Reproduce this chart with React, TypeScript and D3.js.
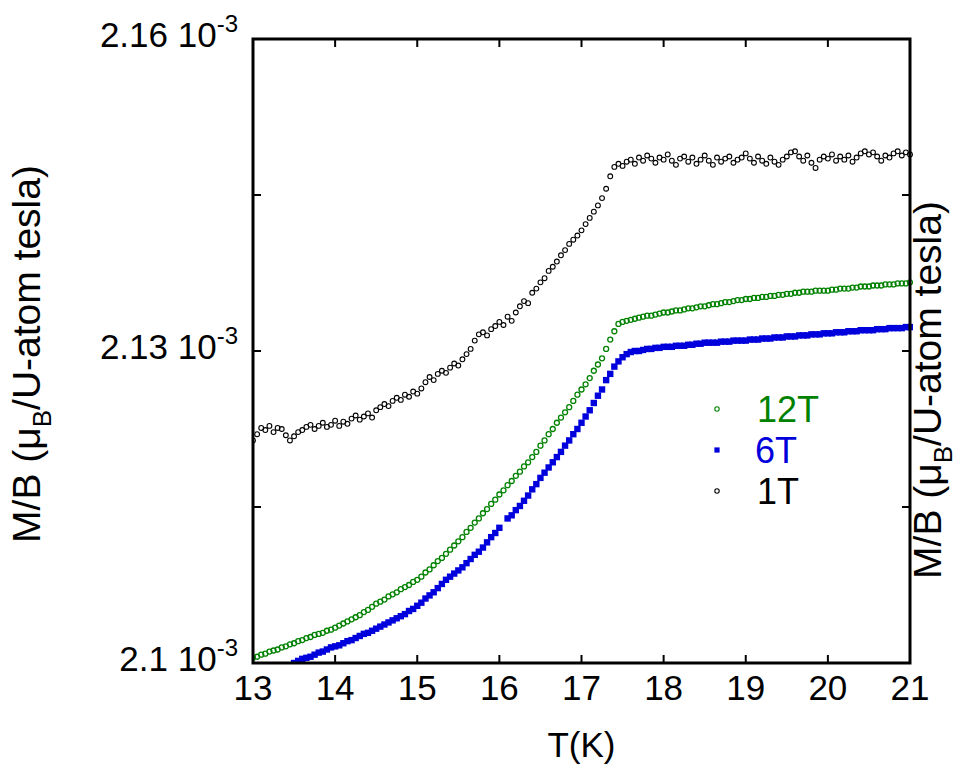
import React from "react";
import * as d3 from "d3";

// Temperatures (K) of the sampled points
const temps: number[] = [
  13.0, 13.05, 13.1, 13.15, 13.2, 13.25, 13.3, 13.35, 13.4, 13.45,
  13.5, 13.55, 13.6, 13.65, 13.7, 13.75, 13.8, 13.85, 13.9, 13.95,
  14.0, 14.05, 14.1, 14.15, 14.2, 14.25, 14.3, 14.35, 14.4, 14.45,
  14.5, 14.55, 14.6, 14.65, 14.7, 14.75, 14.8, 14.85, 14.9, 14.95,
  15.0, 15.05, 15.1, 15.15, 15.2, 15.25, 15.3, 15.35, 15.4, 15.45,
  15.5, 15.55, 15.6, 15.65, 15.7, 15.75, 15.8, 15.85, 15.9, 15.95,
  16.0, 16.05, 16.1, 16.15, 16.2, 16.25, 16.3, 16.35, 16.4, 16.45,
  16.5, 16.55, 16.6, 16.65, 16.7, 16.75, 16.8, 16.85, 16.9, 16.95,
  17.0, 17.05, 17.1, 17.15, 17.2, 17.25, 17.3, 17.35, 17.4, 17.45,
  17.5, 17.55, 17.6, 17.65, 17.7, 17.75, 17.8, 17.85, 17.9, 17.95,
  18.0, 18.05, 18.1, 18.15, 18.2, 18.25, 18.3, 18.35, 18.4, 18.45,
  18.5, 18.55, 18.6, 18.65, 18.7, 18.75, 18.8, 18.85, 18.9, 18.95,
  19.0, 19.05, 19.1, 19.15, 19.2, 19.25, 19.3, 19.35, 19.4, 19.45,
  19.5, 19.55, 19.6, 19.65, 19.7, 19.75, 19.8, 19.85, 19.9, 19.95,
  20.0, 20.05, 20.1, 20.15, 20.2, 20.25, 20.3, 20.35, 20.4, 20.45,
  20.5, 20.55, 20.6, 20.65, 20.7, 20.75, 20.8, 20.85, 20.9, 20.95,
  21.0,
];

// M/B in units of 1e-3 muB/(U-atom tesla)
const series12T: (number | null)[] = [
  2.1005, 2.1006, 2.1008, 2.1009, 2.1011, 2.1012, 2.1013, 2.1015, 2.1016, 2.1018,
  2.1019, 2.1021, 2.1022, 2.1024, 2.1025, 2.1027, 2.1028, 2.1029, 2.1031, 2.1032,
  2.1034, 2.1036, 2.1038, 2.104, 2.1042, 2.1044, 2.1046, 2.1049, 2.1051, 2.1054,
  2.1057, 2.1059, 2.1061, 2.1064, 2.1066, 2.1068, 2.1071, 2.1073, 2.1075, 2.1078,
  2.108, 2.1083, 2.1087, 2.109, 2.1094, 2.1098, 2.1101, 2.1105, 2.1109, 2.1113,
  2.1117, 2.1121, 2.1126, 2.113, 2.1135, 2.1139, 2.1144, 2.1148, 2.1153, 2.1157,
  2.1162, 2.1166, 2.1171, 2.1175, 2.118, 2.1184, 2.1189, 2.1193, 2.1198, 2.1203,
  2.1209, 2.1214, 2.122, 2.1225, 2.1231, 2.1236, 2.1241, 2.1246, 2.1252, 2.1258,
  2.1263, 2.1268, 2.1274, 2.1281, 2.1287, 2.1293, 2.1302, 2.1311, 2.1319, 2.1326,
  2.1328, 2.1329, 2.133, 2.1331, 2.1332, 2.1333, 2.1334, 2.1334, 2.1335, 2.1336,
  2.1337, 2.1337, 2.1338, 2.1339, 2.1339, 2.134, 2.1341, 2.1341, 2.1342, 2.1343,
  2.1343, 2.1344, 2.1345, 2.1345, 2.1346, 2.1347, 2.1347, 2.1348, 2.1349, 2.1349,
  2.135, 2.135, 2.1351, 2.1351, 2.1352, 2.1352, 2.1353, 2.1353, 2.1354, 2.1354,
  2.1355, 2.1355, 2.1356, 2.1356, 2.1357, 2.1357, 2.1357, 2.1358, 2.1358, 2.1358,
  2.1358, 2.1359, 2.1359, 2.136, 2.136, 2.136, 2.1361, 2.1361, 2.1362, 2.1362,
  2.1362, 2.1363, 2.1363, 2.1363, 2.1364, 2.1364, 2.1364, 2.1365, 2.1365, 2.1365,
  2.1366,
];

const series6T: (number | null)[] = [
  null, null, null, null, null, null, null, null, null, null,
  2.1, 2.1002, 2.1004, 2.1005, 2.1006, 2.1008, 2.101, 2.1011, 2.1013, 2.1015,
  2.1016, 2.1017, 2.1019, 2.1021, 2.1022, 2.1024, 2.1026, 2.1028, 2.1029, 2.1031,
  2.1033, 2.1035, 2.1037, 2.1039, 2.1041, 2.1043, 2.1045, 2.1047, 2.105, 2.1052,
  2.1055, 2.1058, 2.1062, 2.1065, 2.1068, 2.1072, 2.1076, 2.108, 2.1083, 2.1086,
  2.1089, 2.1092, 2.1096, 2.11, 2.1104, 2.1107, 2.1111, 2.1116, 2.1121, 2.1125,
  2.113, null, 2.1139, 2.1142, 2.1147, 2.1151, 2.1156, 2.1161, 2.1167, 2.1172,
  2.1178, 2.1183, 2.1188, 2.1193, 2.1198, 2.1203, 2.1209, 2.1214, 2.122, 2.1225,
  2.1231, 2.1237, 2.1243, 2.125, 2.1257, 2.1263, 2.1272, 2.1278, 2.1285, 2.129,
  2.1294, 2.1297, 2.1299, 2.13, 2.13, 2.1301, 2.1302, 2.1302, 2.1303, 2.1303,
  2.1304, 2.1304, 2.1304, 2.1305, 2.1305, 2.1305, 2.1306, 2.1306, 2.1307, 2.1307,
  2.1308, 2.1308, 2.1308, 2.1308, 2.1309, 2.1309, 2.1309, 2.131, 2.131, 2.131,
  2.131, 2.1311, 2.1311, 2.1311, 2.1312, 2.1312, 2.1312, 2.1313, 2.1313, 2.1313,
  2.1314, 2.1314, 2.1314, 2.1315, 2.1315, 2.1315, 2.1316, 2.1316, 2.1316, 2.1317,
  2.1317, 2.1317, 2.1318, 2.1318, 2.1318, 2.1319, 2.1319, 2.1319, 2.132, 2.132,
  2.132, 2.132, 2.1321, 2.1321, 2.1321, 2.1322, 2.1322, 2.1322, 2.1322, 2.1323,
  2.1323,
];

const series1T: (number | null)[] = [
  2.1214, 2.122, 2.1226, 2.1224, 2.1228, 2.1222, 2.1226, 2.1225, 2.1219, 2.1214,
  2.1218, 2.1222, 2.1224, 2.1227, 2.1229, 2.1225, 2.1228, 2.1231, 2.1227, 2.1229,
  2.1233, 2.1228, 2.1232, 2.123, 2.1235, 2.1238, 2.1234, 2.1237, 2.124, 2.1236,
  2.1243, 2.1246, 2.1249, 2.1247, 2.1252, 2.1255, 2.1253, 2.1258, 2.1256, 2.1261,
  2.1259, 2.1264, 2.127, 2.1275, 2.1272, 2.1278, 2.1281, 2.1279, 2.1284, 2.1288,
  2.1286, 2.1292, 2.1297, 2.1302, 2.131, 2.1316, 2.1318, 2.1315, 2.1321, 2.1324,
  2.1328, 2.1325, 2.1333, 2.1329, 2.1337, 2.1343, 2.1348, 2.1346, 2.1356, 2.136,
  2.1366, 2.137, 2.1377, 2.1381, 2.1386, 2.1392, 2.1397, 2.1403, 2.1407, 2.1411,
  2.1416, 2.1422, 2.1428, 2.1434, 2.144, 2.1447, 2.1456, 2.1468, 2.1477, 2.148,
  2.1478, 2.1482, 2.1484, 2.148, 2.1486, 2.1483, 2.1488, 2.1485, 2.1481, 2.1486,
  2.1484, 2.1489, 2.1483, 2.1479, 2.1485, 2.1487, 2.1482, 2.1486, 2.148, 2.1484,
  2.1488, 2.1483, 2.1479, 2.1486, 2.1482, 2.1485, 2.1487, 2.1481, 2.1484, 2.1486,
  2.149, 2.1485, 2.1481, 2.1487, 2.1483, 2.148, 2.1486, 2.1482, 2.1479, 2.1484,
  2.1487, 2.1491, 2.1492, 2.1487, 2.1483, 2.1488, 2.1481, 2.1476, 2.1484, 2.1487,
  2.1485, 2.1489, 2.1483, 2.1487, 2.1484, 2.1488, 2.1482, 2.1486, 2.149, 2.1492,
  2.1489, 2.1491, 2.1487, 2.1483, 2.1488, 2.1486, 2.149, 2.1492, 2.1488, 2.1491,
  2.1489,
];

const xTicks: number[] = [13, 14, 15, 16, 17, 18, 19, 20, 21];
const yTicks: number[] = [2.1, 2.115, 2.13, 2.145, 2.16];
const yLabels: string[] = ["2.1", "", "2.13", "", "2.16"];
const legendNames: string[] = ["12T", "6T", "1T"];

const W = 967;
const H = 772;
const M = { left: 253, right: 910, top: 39, bottom: 663 };
const FONT = "Arial, 'Liberation Sans', Helvetica, sans-serif";
const GREEN = "#008200";
const BLUE = "#0000dc";

export default function App() {
  const x = d3.scaleLinear().domain([13, 21]).range([M.left, M.right]);
  const y = d3.scaleLinear().domain([2.1, 2.16]).range([M.bottom, M.top]);

  const pts = (s: (number | null)[]) =>
    temps
      .map((t, i) => ({ t, v: s[i] }))
      .filter((d) => d.v !== null && d.v !== undefined) as { t: number; v: number }[];

  const tickLen = 8;
  const fs = 35;
  const tfs = 39;
  const sq = 6.4;

  const titleEl = (tx: number, ty: number) => (
    <text
      transform={`translate(${tx},${ty}) rotate(-90)`}
      textAnchor="middle"
      fontSize={tfs}
      fontFamily={FONT}
      fill="#000"
    >
      M/B (μ
      <tspan fontSize={26} dy={11}>B</tspan>
      <tspan dy={-11}>/U-atom tesla)</tspan>
    </text>
  );

  return (
    <svg
      width={W}
      height={H}
      style={{ position: "absolute", left: 0, top: 0, background: "#fff" }}
    >
      <rect width={W} height={H} fill="#fff" />
      <defs>
        <clipPath id="plotclip">
          <rect x={M.left} y={M.top - 3} width={M.right - M.left + 3} height={M.bottom - M.top + 3} />
        </clipPath>
      </defs>

      <g clipPath="url(#plotclip)">
        {pts(series1T).map((d, i) => (
          <circle key={"b" + i} cx={x(d.t)} cy={y(d.v)} r={2.4} fill="none" stroke="#000" strokeWidth={1.1} />
        ))}
        {pts(series12T).map((d, i) => (
          <circle key={"g" + i} cx={x(d.t)} cy={y(d.v)} r={2.5} fill="none" stroke={GREEN} strokeWidth={1.3} />
        ))}
        {pts(series6T).map((d, i) => (
          <rect key={"s" + i} x={x(d.t) - sq / 2} y={y(d.v) - sq / 2} width={sq} height={sq} fill={BLUE} />
        ))}
      </g>

      {/* frame */}
      <rect
        x={M.left}
        y={M.top}
        width={M.right - M.left}
        height={M.bottom - M.top}
        fill="none"
        stroke="#000"
        strokeWidth={3}
      />

      {/* x ticks bottom and top */}
      {xTicks.map((t) => (
        <g key={"xt" + t}>
          <line x1={x(t)} x2={x(t)} y1={M.bottom} y2={M.bottom - tickLen} stroke="#000" strokeWidth={2} />
          <line x1={x(t)} x2={x(t)} y1={M.top} y2={M.top + tickLen} stroke="#000" strokeWidth={2} />
          <text x={x(t)} y={M.bottom + 37} textAnchor="middle" fontSize={fs} fontFamily={FONT}>
            {t}
          </text>
        </g>
      ))}

      {/* y ticks left and right */}
      {yTicks.map((v, i) => (
        <g key={"yt" + i}>
          <line x1={M.left} x2={M.left + tickLen} y1={y(v)} y2={y(v)} stroke="#000" strokeWidth={2} />
          <line x1={M.right} x2={M.right - tickLen} y1={y(v)} y2={y(v)} stroke="#000" strokeWidth={2} />
          {yLabels[i] && (
            <text x={M.left - 15} y={y(v) + 8} textAnchor="end" fontSize={fs} fontFamily={FONT}>
              {yLabels[i]} 10
              <tspan fontSize={24} dy={-15}>-3</tspan>
            </text>
          )}
        </g>
      ))}

      {/* axis titles */}
      <text x={(M.left + M.right) / 2} y={757} textAnchor="middle" fontSize={fs} fontFamily={FONT}>
        T(K)
      </text>
      {titleEl(40, 354)}
      {titleEl(941, 390)}

      {/* legend */}
      {legendNames.map((n, i) => {
        const ly = 409 + i * 41;
        const col = i === 0 ? GREEN : i === 1 ? BLUE : "#000";
        return (
          <g key={"lg" + n}>
            {i === 1 ? (
              <rect x={717 - 2.6} y={ly - 2.6} width={5.2} height={5.2} fill={col} />
            ) : (
              <circle cx={717} cy={ly} r={2.2} fill="none" stroke={col} strokeWidth={1.1} />
            )}
            <text x={i === 1 ? 755 : 757} y={ly + 13} fontSize={36} fontFamily={FONT} fill={col}>
              {n}
            </text>
          </g>
        );
      })}
    </svg>
  );
}
